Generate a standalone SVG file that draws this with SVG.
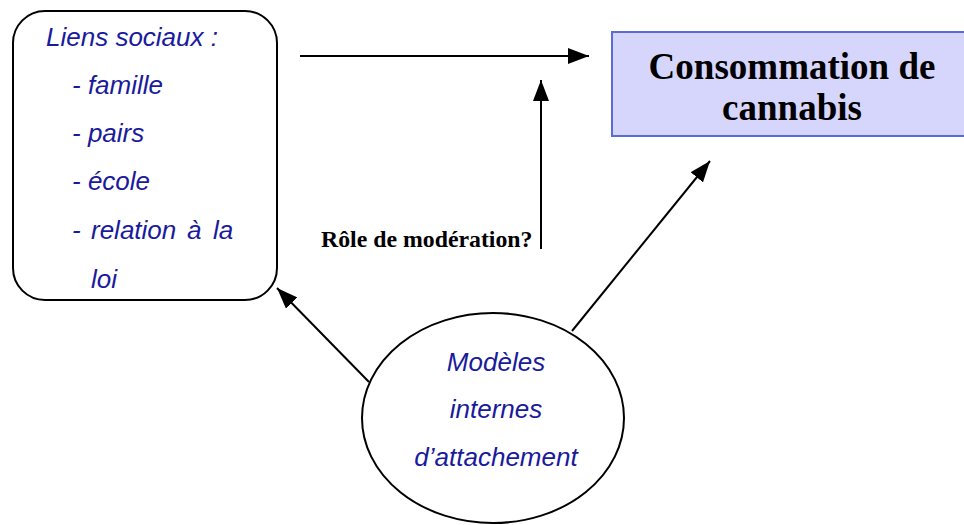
<svg xmlns="http://www.w3.org/2000/svg" width="964" height="525" viewBox="0 0 964 525">
<defs>
<style>
.node { fill: #ffffff; stroke: #000000; stroke-width: 2; }
.it { font-family: "Liberation Sans", Arial, sans-serif; font-style: italic; font-size: 26px; fill: #1a1a9c; }
.title { font-family: "Liberation Serif", "Times New Roman", serif; font-weight: bold; font-size: 37px; fill: #000000; text-anchor: middle; }
.lbl { font-family: "Liberation Serif", "Times New Roman", serif; font-weight: bold; font-size: 23.8px; fill: #000000; }
.conn { stroke: #000000; stroke-width: 2; fill: none; marker-end: url(#arrow); }
</style>
<marker id="arrow" markerUnits="userSpaceOnUse" markerWidth="22" markerHeight="16" refX="21" refY="8" orient="auto">
<path d="M0,0 L21,8 L0,16 Z" fill="#000000"/>
</marker>
</defs>
<rect width="964" height="525" fill="#ffffff"/>
<g id="liens-sociaux">
<rect class="node" x="13" y="11" width="264" height="289" rx="32" ry="32"/>
<text class="it" x="46" y="46">Liens sociaux :</text>
<text class="it" x="72" y="94">- famille</text>
<text class="it" x="72" y="142">- pairs</text>
<text class="it" x="72" y="190">- école</text>
<text class="it" y="239"><tspan x="72">-</tspan><tspan x="91">relation</tspan><tspan x="187">à</tspan><tspan x="213">la</tspan></text>
<text class="it" x="91" y="288">loi</text>
</g>
<g id="consommation">
<rect x="612" y="32" width="370" height="104" fill="#d6d6fc" stroke="#5a6ad6" stroke-width="2"/>
<text class="title" x="792" y="79">Consommation de</text>
<text class="title" x="792" y="120">cannabis</text>
</g>
<g id="modeles">
<ellipse class="node" cx="493" cy="418" rx="131" ry="105"/>
<text class="it" x="496" y="371" text-anchor="middle">Modèles</text>
<text class="it" x="496" y="418" text-anchor="middle">internes</text>
<text class="it" x="496" y="466" text-anchor="middle">d’attachement</text>
</g>
<g id="connectors">
<line class="conn" x1="300" y1="56" x2="589" y2="56"/>
<line class="conn" x1="541" y1="249" x2="541" y2="80"/>
<line class="conn" x1="572" y1="331" x2="710" y2="161"/>
<line class="conn" x1="369" y1="382" x2="277" y2="288"/>
</g>
<g id="label-moderation">
<text class="lbl" x="321" y="247">Rôle de modération?</text>
</g>
</svg>
